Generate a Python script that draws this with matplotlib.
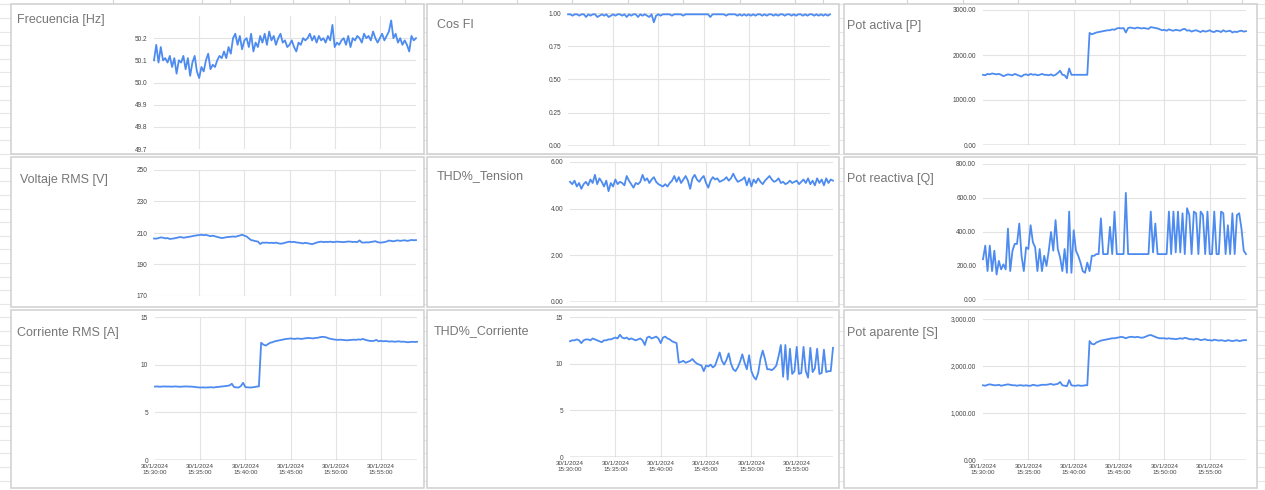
import matplotlib
matplotlib.use('Agg')
import matplotlib.pyplot as plt
from matplotlib.patches import Rectangle
from matplotlib.ticker import FuncFormatter
import pandas as pd

W, H = 1265, 490
plt.rcParams['font.family'] = ['Liberation Sans', 'DejaVu Sans']

# ---------------------------------------------------------------
# datos (muestras cada 15 s desde las 15:30:00)
# ---------------------------------------------------------------
inicio = '2024-01-30 15:30:00'
paso = '15s'
fecha_tick = '30/1/2024'
horas_tick = ['15:30:00', '15:35:00', '15:40:00', '15:45:00', '15:50:00', '15:55:00']

frecuencia = [50.10, 50.17, 50.09, 50.16, 50.10, 50.11, 50.09, 50.12,
              50.07, 50.11, 50.04, 50.10, 50.09, 50.12, 50.06, 50.11,
              50.03, 50.09, 50.12, 50.05, 50.02, 50.07, 50.05, 50.10,
              50.13, 50.06, 50.08, 50.07, 50.10, 50.12, 50.11, 50.14,
              50.11, 50.16, 50.13, 50.20, 50.22, 50.17, 50.21, 50.15,
              50.19, 50.20, 50.16, 50.22, 50.14, 50.18, 50.16, 50.21,
              50.18, 50.22, 50.17, 50.23, 50.19, 50.21, 50.17, 50.20,
              50.22, 50.18, 50.19, 50.16, 50.17, 50.19, 50.16, 50.14,
              50.18, 50.17, 50.20, 50.19, 50.20, 50.22, 50.19, 50.21,
              50.18, 50.21, 50.19, 50.20, 50.18, 50.21, 50.19, 50.26,
              50.16, 50.18, 50.17, 50.19, 50.20, 50.17, 50.21, 50.16,
              50.20, 50.19, 50.21, 50.20, 50.18, 50.22, 50.20, 50.21,
              50.19, 50.23, 50.20, 50.18, 50.20, 50.22, 50.19, 50.21,
              50.23, 50.28, 50.20, 50.22, 50.18, 50.20, 50.17, 50.19,
              50.17, 50.14, 50.21, 50.19, 50.20]

cos_fi = [0.99, 0.99, 0.98, 0.99, 0.99, 0.98, 0.99, 0.99,
          0.97, 0.99, 0.98, 0.99, 0.99, 0.97, 0.98, 0.99,
          0.98, 0.99, 0.97, 0.98, 0.99, 0.98, 0.99, 0.99,
          0.98, 0.99, 0.97, 0.99, 0.98, 0.99, 0.99, 0.97,
          0.99, 0.98, 0.99, 0.98, 0.97, 0.99, 0.93, 0.98,
          0.99, 0.98, 0.99, 0.99, 0.99, 0.99, 0.98, 0.99,
          0.99, 0.99, 0.99, 0.98, 0.99, 0.99, 0.99, 0.99,
          0.99, 0.99, 0.99, 0.99, 0.99, 0.99, 0.99, 0.97,
          0.99, 0.99, 0.99, 0.99, 0.99, 0.99, 0.98, 0.99,
          0.99, 0.99, 0.99, 0.98, 0.99, 0.98, 0.99, 0.98,
          0.99, 0.98, 0.99, 0.98, 0.99, 0.99, 0.98, 0.99,
          0.98, 0.99, 0.99, 0.98, 0.99, 0.98, 0.99, 0.99,
          0.98, 0.99, 0.99, 0.98, 0.99, 0.98, 0.99, 0.99,
          0.98, 0.99, 0.98, 0.99, 0.99, 0.98, 0.99, 0.98,
          0.99, 0.98, 0.99, 0.98, 0.99]

pot_activa = [1560, 1550, 1580, 1570, 1590, 1580, 1570, 1580,
              1560, 1530, 1550, 1570, 1560, 1550, 1580, 1560,
              1540, 1520, 1560, 1570, 1550, 1580, 1560, 1570,
              1550, 1560, 1580, 1560, 1560, 1550, 1570, 1540,
              1560, 1600, 1650, 1560, 1550, 1480, 1700, 1560,
              1560, 1560, 1560, 1560, 1560, 1560, 1560, 2490,
              2460, 2480, 2500, 2510, 2520, 2530, 2540, 2550,
              2550, 2570, 2560, 2590, 2600, 2590, 2600, 2500,
              2600, 2610, 2600, 2590, 2610, 2600, 2590, 2600,
              2590, 2580, 2620, 2610, 2600, 2590, 2570, 2550,
              2560, 2540, 2570, 2550, 2540, 2560, 2550, 2540,
              2570, 2580, 2540, 2550, 2520, 2540, 2550, 2530,
              2510, 2540, 2520, 2530, 2550, 2520, 2510, 2540,
              2530, 2510, 2550, 2520, 2530, 2540, 2500, 2520,
              2510, 2530, 2540, 2520, 2530]

voltaje = [206.5, 206.4, 206.8, 207.2, 207.0, 206.6, 206.8, 206.2,
           206.4, 206.6, 206.9, 207.3, 207.4, 207.0, 207.2, 207.5,
           207.7, 208.0, 208.3, 208.5, 208.7, 208.9, 208.6, 208.8,
           208.4, 208.0, 208.3, 207.9, 207.5, 207.1, 206.8, 207.0,
           207.3, 207.5, 207.6, 207.8, 207.6, 208.0, 208.4, 208.9,
           208.3, 207.8, 206.6, 205.5, 205.2, 204.8, 204.6, 203.0,
           203.9, 203.8, 203.9, 203.7, 203.8, 203.6, 203.9, 203.5,
           203.2, 203.4, 203.8, 204.2, 204.5, 204.2, 204.4, 204.0,
           203.9, 203.6, 203.4, 203.8, 203.5, 203.2, 202.9, 203.4,
           203.9, 204.3, 204.5, 204.2, 204.4, 204.3, 204.5, 204.2,
           204.3, 204.5, 204.4, 204.3, 204.2, 204.4, 204.6, 204.5,
           204.3, 204.4, 204.2, 205.3, 204.0, 203.9, 204.1, 204.0,
           204.3, 204.5, 204.8, 204.2, 203.9, 204.0, 204.2, 204.6,
           205.2, 205.0, 204.7, 205.1, 205.3, 205.0, 205.2, 205.4,
           205.0, 205.2, 205.6, 205.4, 205.5]

thd_tension = [5.15, 5.05, 5.20, 4.95, 5.10, 4.85, 5.05, 5.15,
               5.00, 5.25, 5.10, 5.45, 5.05, 5.30, 5.15, 4.95,
               5.20, 4.75, 5.10, 4.95, 5.25, 5.05, 5.15, 5.10,
               5.00, 5.40, 5.20, 5.05, 4.90, 5.10, 5.05, 5.15,
               5.45, 5.20, 5.30, 5.10, 5.25, 5.35, 5.15, 5.05,
               5.00, 4.95, 5.05, 4.95, 5.10, 5.20, 5.40, 5.15,
               5.35, 5.10, 5.25, 5.40, 5.20, 4.85, 5.30, 5.45,
               5.25, 5.15, 5.30, 5.40, 5.10, 4.90, 5.20, 5.35,
               5.25, 5.30, 5.15, 5.20, 5.25, 5.35, 5.20, 5.30,
               5.50, 5.30, 5.15, 5.20, 5.25, 5.35, 5.00, 5.30,
               4.95, 5.25, 5.10, 5.30, 5.15, 5.05, 5.20, 5.30,
               5.40, 5.25, 5.15, 5.20, 5.30, 5.10, 5.15, 5.05,
               5.10, 5.20, 5.10, 5.15, 5.20, 5.05, 5.15, 5.25,
               5.10, 5.30, 5.05, 5.20, 5.00, 5.30, 5.10, 5.25,
               5.00, 5.30, 5.10, 5.25, 5.20]

pot_reactiva = [240, 320, 170, 320, 170, 290, 150, 230,
                180, 210, 180, 420, 170, 290, 330, 330,
                450, 260, 170, 310, 300, 440, 340, 310,
                170, 300, 170, 260, 200, 290, 400, 290,
                470, 300, 250, 170, 300, 160, 520, 160,
                410, 290, 260, 220, 170, 160, 220, 170,
                260, 260, 270, 270, 480, 270, 270, 270,
                430, 270, 520, 270, 270, 270, 270, 630,
                270, 270, 270, 270, 270, 270, 270, 270,
                270, 270, 520, 280, 450, 270, 270, 270,
                270, 270, 520, 270, 520, 280, 520, 280,
                510, 270, 540, 500, 270, 520, 510, 270,
                520, 500, 270, 520, 270, 270, 520, 270,
                270, 520, 510, 270, 440, 270, 510, 270,
                500, 510, 420, 290, 270]

corriente = [7.70, 7.72, 7.68, 7.70, 7.72, 7.70, 7.71, 7.69,
             7.70, 7.72, 7.70, 7.68, 7.70, 7.71, 7.72, 7.70,
             7.70, 7.68, 7.65, 7.62, 7.60, 7.62, 7.60, 7.61,
             7.62, 7.63, 7.60, 7.65, 7.66, 7.70, 7.72, 7.75,
             7.78, 7.82, 8.00, 7.65, 7.62, 7.60, 7.75, 8.10,
             7.65, 7.62, 7.60, 7.62, 7.65, 7.70, 7.72, 12.30,
             12.10, 12.00, 12.15, 12.30, 12.35, 12.45, 12.50, 12.55,
             12.60, 12.65, 12.70, 12.72, 12.75, 12.72, 12.70, 12.75,
             12.72, 12.70, 12.75, 12.78, 12.80, 12.78, 12.75, 12.80,
             12.82, 12.88, 12.92, 12.90, 12.85, 12.75, 12.70, 12.65,
             12.62, 12.60, 12.62, 12.60, 12.58, 12.55, 12.58, 12.60,
             12.62, 12.60, 12.65, 12.62, 12.70, 12.62, 12.55, 12.50,
             12.48, 12.50, 12.60, 12.45, 12.50, 12.45, 12.48, 12.45,
             12.42, 12.45, 12.40, 12.43, 12.45, 12.40, 12.42, 12.38,
             12.35, 12.38, 12.40, 12.38, 12.40]

thd_corriente = [12.4, 12.5, 12.5, 12.6, 12.5, 12.2, 12.5, 12.6,
                 12.6, 12.5, 12.7, 12.6, 12.5, 12.4, 12.3, 12.5,
                 12.5, 12.6, 12.6, 12.7, 12.8, 12.7, 13.1, 12.8,
                 12.7, 12.8, 12.6, 12.7, 12.6, 12.5, 12.6, 12.7,
                 12.5, 12.0, 12.8, 12.9, 12.7, 12.8, 12.9, 12.7,
                 12.2, 12.8, 12.9, 12.7, 12.6, 12.4, 12.3, 12.2,
                 10.1, 10.2, 10.3, 10.1, 10.2, 10.3, 10.5, 10.2,
                 10.0, 9.9, 9.8, 9.2, 9.8, 9.7, 9.9, 9.6,
                 9.8, 10.5, 11.2, 10.3, 9.9, 10.4, 11.1, 10.0,
                 9.4, 9.2, 9.6, 10.2, 11.0, 10.1, 9.4, 10.9,
                 9.2, 8.6, 8.3, 9.0, 10.5, 11.4, 10.5, 9.4,
                 9.4, 9.3, 9.5, 9.8, 10.8, 12.0, 8.6, 12.0,
                 8.3, 11.6, 8.9, 9.2, 11.8, 8.9, 9.0, 11.8,
                 9.2, 8.5, 11.7, 9.1, 9.5, 11.6, 8.9, 9.0,
                 11.5, 9.1, 9.2, 9.2, 11.7]

pot_aparente = [1590, 1580, 1600, 1610, 1600, 1590, 1590, 1600,
                1580, 1590, 1600, 1610, 1600, 1590, 1590, 1580,
                1590, 1590, 1580, 1590, 1580, 1580, 1600, 1590,
                1580, 1590, 1600, 1600, 1600, 1610, 1620, 1600,
                1610, 1620, 1660, 1590, 1580, 1570, 1700, 1590,
                1580, 1580, 1590, 1580, 1580, 1590, 1590, 2530,
                2470, 2460, 2500, 2520, 2540, 2550, 2560, 2570,
                2580, 2590, 2590, 2600, 2610, 2620, 2610, 2590,
                2610, 2620, 2620, 2610, 2620, 2610, 2600, 2610,
                2630, 2650, 2660, 2640, 2620, 2600, 2590, 2590,
                2590, 2580, 2590, 2580, 2580, 2570, 2580, 2590,
                2580, 2600, 2590, 2570, 2570, 2560, 2580, 2570,
                2550, 2560, 2570, 2550, 2550, 2540, 2560, 2550,
                2540, 2550, 2540, 2530, 2550, 2540, 2530, 2540,
                2550, 2530, 2540, 2550, 2550]

# ---------------------------------------------------------------
# paneles: titulo, serie, yticks, formato, ylim, caja del grafico (px),
# posicion del titulo (px), tarjeta (px), linea base oscura, etiquetas x
# ---------------------------------------------------------------
paneles = [
    ('Frecuencia [Hz]', frecuencia, [49.7, 49.8, 49.9, 50.0, 50.1, 50.2], '{:.1f}',
     (49.7, 50.3), (154, 16, 416, 149), (17, 20), (11, 4, 424, 154), False, False),
    ('Cos FI', cos_fi, [0, 0.25, 0.5, 0.75, 1.0], '{:.2f}',
     (0, 1.0), (568, 13, 830, 146), (437, 25), (427, 4, 839, 154), True, False),
    ('Pot activa [P]', pot_activa, [0, 1000, 2000, 3000], '{:.2f}',
     (0, 3000), (983, 10, 1246, 145), (847, 26), (844, 4, 1257, 154), True, False),
    ('Voltaje RMS [V]', voltaje, [170, 190, 210, 230, 250], '{:.0f}',
     (170, 250), (154, 170, 416, 296), (20, 180), (11, 157, 424, 307), False, False),
    ('THD%_Tension', thd_tension, [0, 2, 4, 6], '{:.2f}',
     (0, 6), (570, 162, 833, 302), (437, 176), (427, 157, 839, 307), True, False),
    ('Pot reactiva [Q]', pot_reactiva, [0, 200, 400, 600, 800], '{:.2f}',
     (0, 800), (983, 164, 1246, 300), (847, 179), (844, 157, 1257, 307), True, False),
    ('Corriente RMS [A]', corriente, [0, 5, 10, 15], '{:.0f}',
     (0, 15), (155, 317, 417, 460), (17, 333), (11, 310, 424, 488), True, True),
    ('THD%_Corriente', thd_corriente, [0, 5, 10, 15], '{:.0f}',
     (0, 15), (570, 317, 833, 457), (434, 331), (427, 310, 839, 488), True, True),
    ('Pot aparente [S]', pot_aparente, [0, 1000, 2000, 3000], '{:,.2f}',
     (0, 3000), (983, 319, 1246, 460), (847, 333), (844, 310, 1257, 488), True, True),
]

# lineas de la hoja de calculo (fondo)
filas_hoja = [4.5 + 13.6 * k for k in range(36)]
columnas_hoja = [113, 202, 230, 293, 349, 405, 462, 517, 572, 628, 683, 740,
                 795, 823, 907, 963, 1018, 1075, 1130, 1187, 1242]

azul = '#4d8bf0'
gris_grilla = '#e3e3e3'
gris_titulo = '#767676'
gris_ticks = '#444444'


def caja(x0, y0, x1, y1):
    return [x0 / W, 1 - y1 / H, (x1 - x0) / W, (y1 - y0) / H]


fig = plt.figure(figsize=(W / 100, H / 100), dpi=100)
fig.patch.set_facecolor('white')

fondo = fig.add_axes([0, 0, 1, 1])
fondo.set_xlim(0, W)
fondo.set_ylim(H, 0)
fondo.axis('off')
for y in filas_hoja:
    fondo.axhline(y, color='#e6e6e6', lw=0.8, zorder=0)
for x in columnas_hoja:
    fondo.plot([x, x], [0, 4], color='#d4d4d4', lw=0.8, zorder=0)

for titulo, serie, yticks, fmt, ylim, pbox, tpos, tarjeta, base, etiquetas in paneles:
    x0, y0, x1, y1 = tarjeta
    fondo.add_patch(Rectangle((x0, y0), x1 - x0, y1 - y0, facecolor='white',
                              edgecolor='#cfcfcf', lw=1.1, zorder=1))
    fondo.text(tpos[0], tpos[1], titulo, color=gris_titulo, fontsize=9,
               ha='left', va='center', zorder=2)

    ax = fig.add_axes(caja(*pbox))
    ax.patch.set_alpha(0)
    tiempos = pd.date_range(inicio, periods=len(serie), freq=paso)
    ax.plot(tiempos, serie, color=azul, lw=1.3, clip_on=False, zorder=3,
            solid_joinstyle='round')

    marcas = pd.to_datetime(['2024-01-30 ' + h for h in horas_tick])
    ax.set_xlim(pd.Timestamp(inicio), pd.Timestamp(inicio) + pd.Timedelta(minutes=29))
    ax.set_xticks(marcas)
    if etiquetas:
        ax.set_xticklabels([fecha_tick + '\n' + h for h in horas_tick],
                           fontsize=4.5, color=gris_ticks, linespacing=1.25)
    else:
        ax.set_xticklabels([])
    ax.set_ylim(*ylim)
    ax.set_yticks(yticks)
    ax.yaxis.set_major_formatter(FuncFormatter(lambda v, p, f=fmt: f.format(v)))
    ax.tick_params(axis='y', length=0, pad=5, labelsize=4.7, labelcolor=gris_ticks)
    ax.tick_params(axis='x', length=0, pad=3)
    ax.grid(True, color=gris_grilla, lw=0.8)
    ax.get_xgridlines()[0].set_visible(False)
    ax.set_axisbelow(True)
    for s in ax.spines.values():
        s.set_visible(False)
    if base:
        ax.axhline(ylim[0], color='#9a9a9a', lw=1.0, zorder=2)

fig.savefig('out.png', dpi=100, facecolor='white')
